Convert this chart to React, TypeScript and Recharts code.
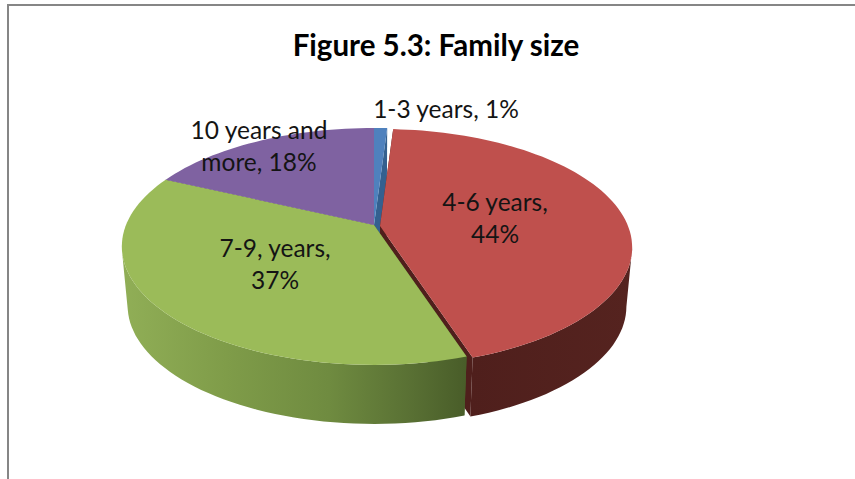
import { Cell, Pie, PieChart } from "recharts";

const categories = ["1-3 years", "4-6 years", "7-9, years", "10 years and more"];
const shares = [1, 44, 37, 18];
const labelLines = [["1-3 years, 1%"], ["4-6 years,", "44%"], ["7-9, years,", "37%"], ["10 years and", "more, 18%"]];

const topColors = ["#4f81bd", "#bf504d", "#9bbb59", "#7f62a1"];
const wallColors = ["#345f8f", "url(#redWall)", "url(#greenWall)", "#5d4778"];
const faceColors = ["#34608f", "#4f1f1c", "#4d632b", "#5d4778"];

// where the text of each label sits: centre x and first baseline
const labelAnchors = [
  { x: 446, y: 118 },
  { x: 495, y: 211 },
  { x: 275, y: 257 },
  { x: 259, y: 139 },
];

const chartData = categories.map((name, i) => ({ name, value: shares[i] }));

const SQUASH = 0.462;
const TILT = 0.181;
const DEPTH = 59;
const FLOOR_SCALE = 0.977;
const RED_SHIFT = { x: 6, y: 1 };
const FONT = "Lato, Carlito, 'Open Sans', sans-serif";

// flat disc -> tilted disc seen in perspective
function project(cx: number, cy: number, r: number, deg: number) {
  const t = ((90 - deg) * Math.PI) / 180;
  const u = Math.sin(t);
  const v = -Math.cos(t);
  const w = 1 - TILT * v;
  return { x: cx + (r * u) / w, y: cy + (r * SQUASH * v) / w };
}

function arcPoints(cx: number, cy: number, r: number, from: number, to: number) {
  const steps = Math.max(2, Math.ceil(Math.abs(to - from) / 2));
  const pts = [];
  for (let i = 0; i <= steps; i++) {
    pts.push(project(cx, cy, r, from + ((to - from) * i) / steps));
  }
  return pts;
}

const lower = (cx: number, p: { x: number; y: number }) => ({
  x: cx + (p.x - cx) * FLOOR_SCALE,
  y: p.y + DEPTH,
});

const toPath = (pts: { x: number; y: number }[]) =>
  pts.map((p, i) => `${i ? "L" : "M"}${p.x.toFixed(1)} ${p.y.toFixed(1)}`).join(" ") + " Z";

function centre(props: any) {
  const shift = props.index === 1 ? RED_SHIFT : { x: 0, y: 0 };
  return { cx: props.cx + shift.x, cy: props.cy + shift.y };
}

function TopSlice(props: any) {
  const { outerRadius, startAngle, endAngle, index } = props;
  const { cx, cy } = centre(props);
  const pts = [{ x: cx, y: cy }, ...arcPoints(cx, cy, outerRadius, startAngle, endAngle)];
  return <path d={toPath(pts)} fill={topColors[index]} />;
}

function WallSlice(props: any) {
  const { outerRadius, startAngle, endAngle, index } = props;
  const { cx, cy } = centre(props);
  const rim = arcPoints(cx, cy, outerRadius, startAngle, endAngle);
  const hub = { x: cx, y: cy };
  const first = rim[0];
  const last = rim[rim.length - 1];
  const face = (p: { x: number; y: number }) => toPath([hub, p, lower(cx, p), lower(cx, hub)]);
  // only the part of the rim that faces the viewer gets an outer wall
  const front = rim.filter((p, i) => (i < rim.length - 1 ? rim[i + 1].x < p.x : rim[i - 1].x > p.x));
  const outer = front.length > 1 ? toPath([...front, ...front.map((p) => lower(cx, p)).reverse()]) : "";
  return (
    <g>
      <path d={face(first)} fill={faceColors[index]} />
      <path d={face(last)} fill={faceColors[index]} />
      {outer && <path d={outer} fill={wallColors[index]} />}
    </g>
  );
}

function SliceLabel(props: any) {
  const { index } = props;
  const anchor = labelAnchors[index];
  return (
    <text x={anchor.x} y={anchor.y} textAnchor="middle" fontFamily={FONT} fontSize={24.5} fill="#141414">
      {labelLines[index].map((line, i) => (
        <tspan key={line} x={anchor.x} dy={i ? 32 : 0}>
          {line}
        </tspan>
      ))}
    </text>
  );
}

export default function App() {
  return (
    <div style={{ position: "absolute", left: 0, top: 0, width: 855, height: 479, overflow: "hidden", background: "#fff" }}>
      <div style={{ position: "absolute", left: 7, top: 4, right: 0, height: 1.5, background: "#868686" }} />
      <div style={{ position: "absolute", left: 7, top: 4, bottom: 0, width: 1.5, background: "#868686" }} />
      <PieChart width={855} height={479} margin={{ top: 0, right: 0, bottom: 0, left: 0 }}>
        <defs>
          <linearGradient id="greenWall" gradientUnits="userSpaceOnUse" x1={125} y1={0} x2={465} y2={0}>
            <stop offset="0%" stopColor="#90ae56" />
            <stop offset="30%" stopColor="#7f9c49" />
            <stop offset="60%" stopColor="#6f8b40" />
            <stop offset="85%" stopColor="#586f33" />
            <stop offset="100%" stopColor="#495d29" />
          </linearGradient>
          <linearGradient id="redWall" gradientUnits="userSpaceOnUse" x1={470} y1={0} x2={630} y2={0}>
            <stop offset="0%" stopColor="#4f1f1c" />
            <stop offset="100%" stopColor="#55231f" />
          </linearGradient>
        </defs>
        <text x={436} y={56} textAnchor="middle" fontFamily={FONT} fontSize={29.5} fontWeight={700} fill="#000">
          Figure 5.3: Family size
        </text>
        <Pie
          data={chartData}
          dataKey="value"
          nameKey="name"
          cx={374}
          cy={225}
          outerRadius={248}
          startAngle={90}
          endAngle={-270}
          stroke="none"
          shape={WallSlice}
          isAnimationActive={false}
        />
        <Pie
          data={chartData}
          dataKey="value"
          nameKey="name"
          cx={374}
          cy={225}
          outerRadius={248}
          startAngle={90}
          endAngle={-270}
          stroke="none"
          shape={TopSlice}
          label={SliceLabel}
          labelLine={false}
          isAnimationActive={false}
        >
          {chartData.map((entry, i) => (
            <Cell key={entry.name} fill={topColors[i]} />
          ))}
        </Pie>
      </PieChart>
    </div>
  );
}
